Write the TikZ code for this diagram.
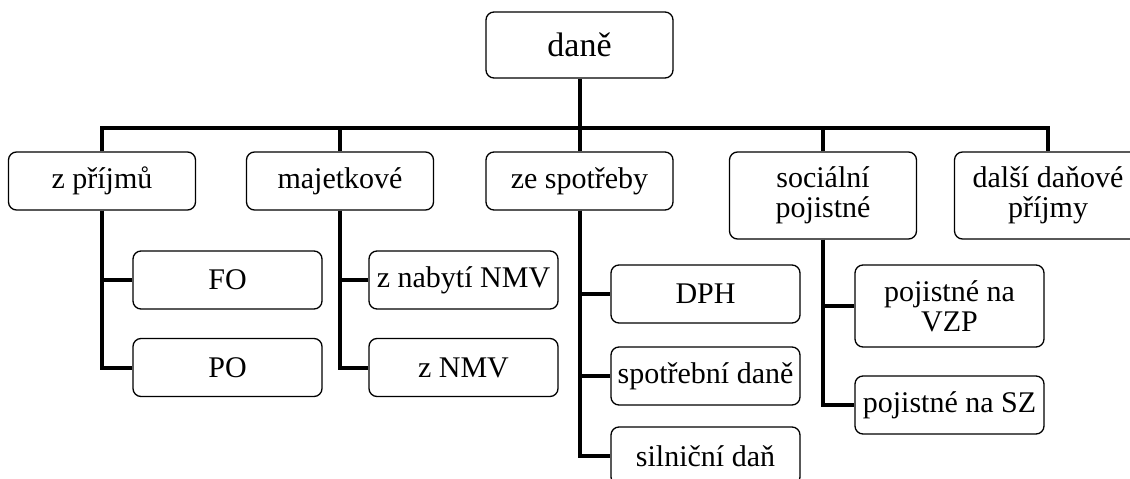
\documentclass[tikz,border=0pt]{standalone}
\usepackage{fontspec}
\setmainfont{Liberation Serif}
\usetikzlibrary{positioning}

\begin{document}
\begin{tikzpicture}[
    x=1pt,
    y=-1pt,
    box/.style={
      draw,
      fill=white,
      rounded corners=8pt,
      line width=1.3pt,
      minimum width=187pt,
      minimum height=58pt,
      inner sep=2pt,
      align=center,
      font=\fontsize{30}{30}\selectfont
      },
    tall/.style={
      box,
      minimum height=87pt
      },
    sub/.style={
      box,
      minimum width=189pt
      },
    link/.style={
      line width=4pt
      }
    ]
    \useasboundingbox (0,0) rectangle (1130,479);
    \coordinate (bar) at (0,128);
    % top
    \node[box, minimum height=66pt, font=\fontsize{34}{36}\selectfont] (dane) at (579.5,45) {daně};
    % first level
    \node[box] (prijmy) at (102,181) {z příjmů};
    \node[box] (majetek) at (340,181) {majetkové};
    \node[box] (spotreba) at (579.5,181) {ze spotřeby};
    \node[tall] (socialni) at (823,195.5) {sociální\\pojistné};
    \node[tall] (dalsi) at (1048,195.5) {další daňové\\příjmy};
    % second level
    \node[sub] (fo) at (227.5,280) {FO};
    \node[sub] (po) at (227.5,367.5) {PO};
    \node[sub] (nabyti) at (463.5,280) {z nabytí NMV};
    \node[sub] (nmv) at (463.5,367.5) {z NMV};
    \node[sub] (dph) at (705.5,294) {DPH};
    \node[sub] (spotrebni) at (705.5,376) {spotřební daně};
    \node[sub] (silnicni) at (705.5,456) {silniční daň};
    \node[sub, minimum height=82pt] (vzp) at (949.5,306) {pojistné na\\VZP};
    \node[sub] (sz) at (949.5,405) {pojistné na SZ};
    % connectors
    \draw[link] (prijmy.north) |- (dalsi.north |- bar) -- (dalsi.north);
    \draw[link] (dane.south) -- (dane.south |- bar);
    \foreach \n in {majetek,spotreba,socialni}
      \draw[link] (\n.north) -- (\n.north |- bar);
    \foreach \p/\c in {prijmy/fo,prijmy/po,majetek/nabyti,majetek/nmv,spotreba/dph,spotreba/spotrebni,spotreba/silnicni,socialni/vzp,socialni/sz}
      \draw[link] (\p.south) |- (\c.west);
\end{tikzpicture}
\end{document}
